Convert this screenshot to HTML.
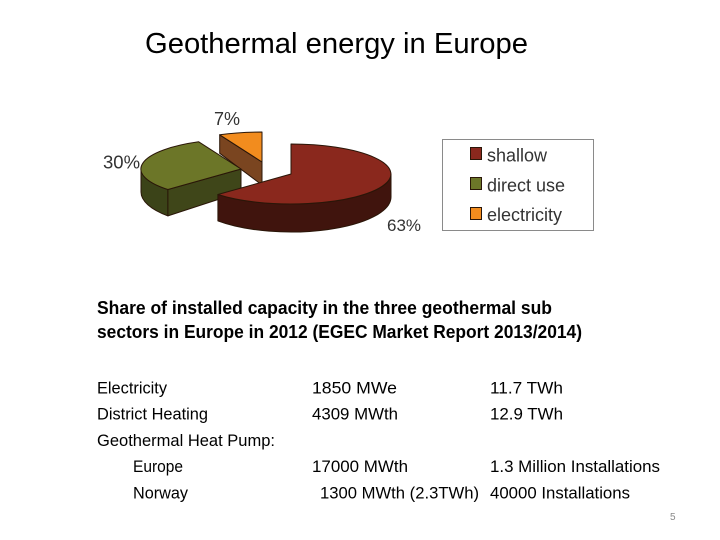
<!DOCTYPE html>
<html>
<head>
<meta charset="utf-8">
<style>
  html, body { margin: 0; padding: 0; background: #ffffff; }
  body { width: 720px; height: 540px; overflow: hidden; }
  svg { display: block; }
  .cal { font-family: "Liberation Sans", "DejaVu Sans", sans-serif; fill: #000; }
  .ar { font-family: "Liberation Sans", Arial, sans-serif; fill: #333; }
</style>
</head>
<body>
<svg width="720" height="540" viewBox="0 0 720 540" xmlns="http://www.w3.org/2000/svg">
  <rect x="0" y="0" width="720" height="540" fill="#ffffff"/>

  <!-- Title -->
  <text class="cal" x="145" y="53" font-size="29" textLength="383" lengthAdjust="spacingAndGlyphs">Geothermal energy in Europe</text>

  <!-- Pie chart -->
  <g stroke="#2a1608" stroke-width="1" stroke-linejoin="round">
    <!-- Orange (electricity) -->
    <path d="M262,162 L219.7,134.8 L219.7,153.3 L262,185 Z" fill="#7a4520"/>
    <path d="M262,162 L219.7,134.8 A100,30 0 0,1 262,132 Z" fill="#f28c1e"/>

    <!-- Green (direct use) -->
    <path d="M167.9,189.5 A100,30 0 0,1 141,169 L141,192 A100,35 0 0,0 167.9,215.9 Z" fill="#3b4318"/>
    <path d="M241,169 L167.9,189.5 L167.9,215.9 L241,192 Z" fill="#3f4619"/>
    <path d="M241,169 L167.9,189.5 A100,30 0 0,1 198.7,141.8 Z" fill="#6c7628"/>

    <!-- Red (shallow) -->
    <path d="M391,174 A100,30 0 0,1 217.9,194.5 L217.9,220.9 A100,35 0 0,0 391,197 Z" fill="#40140d"/>
    <path d="M291,174 L291,144 A100,30 0 1,1 217.9,194.5 Z" fill="#8a281d"/>
  </g>

  <!-- Pie labels -->
  <text class="ar" x="214" y="125" font-size="18">7%</text>
  <text class="ar" x="103" y="168.5" font-size="18.5">30%</text>
  <text class="ar" x="387" y="231" font-size="17">63%</text>

  <!-- Legend -->
  <rect x="442.5" y="139.5" width="151" height="91" fill="#ffffff" stroke="#8a8a8a" stroke-width="1"/>
  <rect x="470.5" y="147.5" width="11" height="12" fill="#8a281d" stroke="#2a1608" stroke-width="1"/>
  <rect x="470.5" y="177.5" width="11" height="12" fill="#6c7628" stroke="#2a1608" stroke-width="1"/>
  <rect x="470.5" y="207.5" width="11" height="12" fill="#f28c1e" stroke="#2a1608" stroke-width="1"/>
  <text class="ar" x="487" y="161.5" font-size="18">shallow</text>
  <text class="ar" x="487" y="191.5" font-size="18">direct use</text>
  <text class="ar" x="487" y="221" font-size="18">electricity</text>

  <!-- Bold heading -->
  <text class="cal" x="97" y="314" font-size="18" font-weight="bold" textLength="455" lengthAdjust="spacingAndGlyphs">Share of installed capacity in the three geothermal sub</text>
  <text class="cal" x="97" y="338" font-size="18" font-weight="bold" textLength="485" lengthAdjust="spacingAndGlyphs">sectors in Europe in 2012 (EGEC Market Report 2013/2014)</text>

  <!-- Table -->
  <g class="cal" font-size="17">
    <text x="97" y="393.5" textLength="70" lengthAdjust="spacingAndGlyphs">Electricity</text>
    <text x="312" y="393.5" textLength="85" lengthAdjust="spacingAndGlyphs">1850 MWe</text>
    <text x="490" y="393.5" textLength="73" lengthAdjust="spacingAndGlyphs">11.7 TWh</text>

    <text x="97" y="419.7" textLength="111" lengthAdjust="spacingAndGlyphs">District Heating</text>
    <text x="312" y="419.7" textLength="86" lengthAdjust="spacingAndGlyphs">4309 MWth</text>
    <text x="490" y="419.7" textLength="73" lengthAdjust="spacingAndGlyphs">12.9 TWh</text>

    <text x="97" y="445.9" textLength="178" lengthAdjust="spacingAndGlyphs">Geothermal Heat Pump:</text>

    <text x="133" y="472.1" textLength="50" lengthAdjust="spacingAndGlyphs">Europe</text>
    <text x="312" y="472.1" textLength="96" lengthAdjust="spacingAndGlyphs">17000 MWth</text>
    <text x="490" y="472.1" textLength="170" lengthAdjust="spacingAndGlyphs">1.3 Million Installations</text>

    <text x="133" y="498.3" textLength="55" lengthAdjust="spacingAndGlyphs">Norway</text>
    <text x="320" y="498.3" textLength="159" lengthAdjust="spacingAndGlyphs">1300 MWth (2.3TWh)</text>
    <text x="490" y="498.3" textLength="140" lengthAdjust="spacingAndGlyphs">40000 Installations</text>
  </g>

  <!-- Page number -->
  <text x="670" y="520" font-size="10" fill="#8a8a8a" font-family="Liberation Sans, sans-serif">5</text>
</svg>
</body>
</html>
